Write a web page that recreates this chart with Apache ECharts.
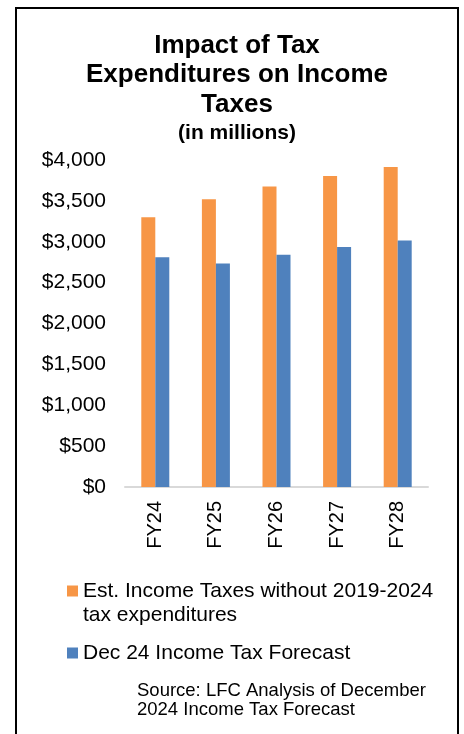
<!DOCTYPE html>
<html>
<head>
<meta charset="utf-8">
<script src="https://cdn.jsdelivr.net/npm/echarts@6/dist/echarts.min.js"></script>
<style>
  html, body { margin: 0; padding: 0; background: #fff; }
  #chart { width: 464px; height: 734px; }
</style>
</head>
<body>
<div id="chart"></div>
<script>
// Fiscal years shown on the category axis
const fiscalYears = ['FY24', 'FY25', 'FY26', 'FY27', 'FY28'];

// Income taxes in millions of dollars
const withoutExpenditures = [3300, 3520, 3675, 3805, 3915];
const dec24Forecast = [2810, 2735, 2840, 2935, 3015];

const seriesNames = [
  'Est. Income Taxes without 2019-2024 tax expenditures',
  'Dec 24 Income Tax Forecast'
];

// Value axis range and step
const axisMax = 4000;
const axisStep = 500;

const FONT = '"Liberation Sans", Arial, Helvetica, sans-serif';

const chart = echarts.init(document.getElementById('chart'), null, { renderer: 'canvas' });

function money(v) {
  return '$' + v.toString().replace(/\B(?=(\d{3})+(?!\d))/g, ',');
}

chart.setOption({
  animation: false,
  backgroundColor: '#ffffff',
  textStyle: { fontFamily: FONT },
  title: [
    {
      text: 'Impact of Tax\nExpenditures on Income\nTaxes',
      subtext: '(in millions)',
      left: 237,
      top: 31,
      textAlign: 'center',
      padding: 0,
      itemGap: 2,
      textStyle: {
        fontFamily: FONT,
        fontSize: 26,
        fontWeight: 'bold',
        color: '#000',
        lineHeight: 29.5
      },
      subtextStyle: {
        fontFamily: FONT,
        fontSize: 21,
        fontWeight: 'bold',
        color: '#000',
        lineHeight: 24
      }
    },
    {
      text: 'Source: LFC Analysis of December\n2024 Income Tax Forecast',
      left: 137,
      top: 681,
      padding: 0,
      textStyle: {
        fontFamily: FONT,
        fontSize: 18.5,
        fontWeight: 'normal',
        color: '#000',
        lineHeight: 19.5
      }
    }
  ],
  legend: [
    {
      data: [seriesNames[0]],
      left: 67,
      top: 555,
      padding: 0,
      itemWidth: 11,
      itemHeight: 11,
      itemGap: 0,
      icon: 'rect',
      // leading blank line keeps the swatch level with the first text line
      formatter: function () {
        return ' \nEst. Income Taxes without 2019-2024\ntax expenditures';
      },
      textStyle: {
        fontFamily: FONT,
        fontSize: 21,
        color: '#000',
        lineHeight: 24
      }
    },
    {
      data: [seriesNames[1]],
      left: 67,
      top: 641,
      padding: 0,
      itemWidth: 11,
      itemHeight: 11,
      icon: 'rect',
      textStyle: {
        fontFamily: FONT,
        fontSize: 21,
        color: '#000',
        lineHeight: 24
      }
    }
  ],
  grid: {
    left: 125,
    right: 36,
    top: 160,
    bottom: 247,
    containLabel: false
  },
  xAxis: {
    type: 'category',
    data: fiscalYears,
    axisLine: { show: true, lineStyle: { color: '#d9d9d9', width: 2 } },
    axisTick: { show: false },
    axisLabel: {
      rotate: 90,
      margin: 14,
      fontFamily: FONT,
      fontSize: 20,
      color: '#000'
    }
  },
  yAxis: {
    type: 'value',
    min: 0,
    max: axisMax,
    interval: axisStep,
    axisLine: { show: false },
    axisTick: { show: false },
    splitLine: { show: false },
    axisLabel: {
      margin: 19,
      fontFamily: FONT,
      fontSize: 21,
      color: '#000',
      formatter: money
    }
  },
  series: [
    {
      name: seriesNames[0],
      type: 'bar',
      data: withoutExpenditures,
      barWidth: 14,
      barGap: '0%',
      itemStyle: { color: '#f79646' }
    },
    {
      name: seriesNames[1],
      type: 'bar',
      data: dec24Forecast,
      barWidth: 14,
      barGap: '0%',
      itemStyle: { color: '#4f81bd' }
    }
  ],
  graphic: [
    {
      type: 'rect',
      shape: { x: 16, y: 8, width: 442, height: 760 },
      style: { fill: 'none', stroke: '#000', lineWidth: 2 },
      silent: true,
      z: 100
    }
  ]
});
</script>
</body>
</html>
